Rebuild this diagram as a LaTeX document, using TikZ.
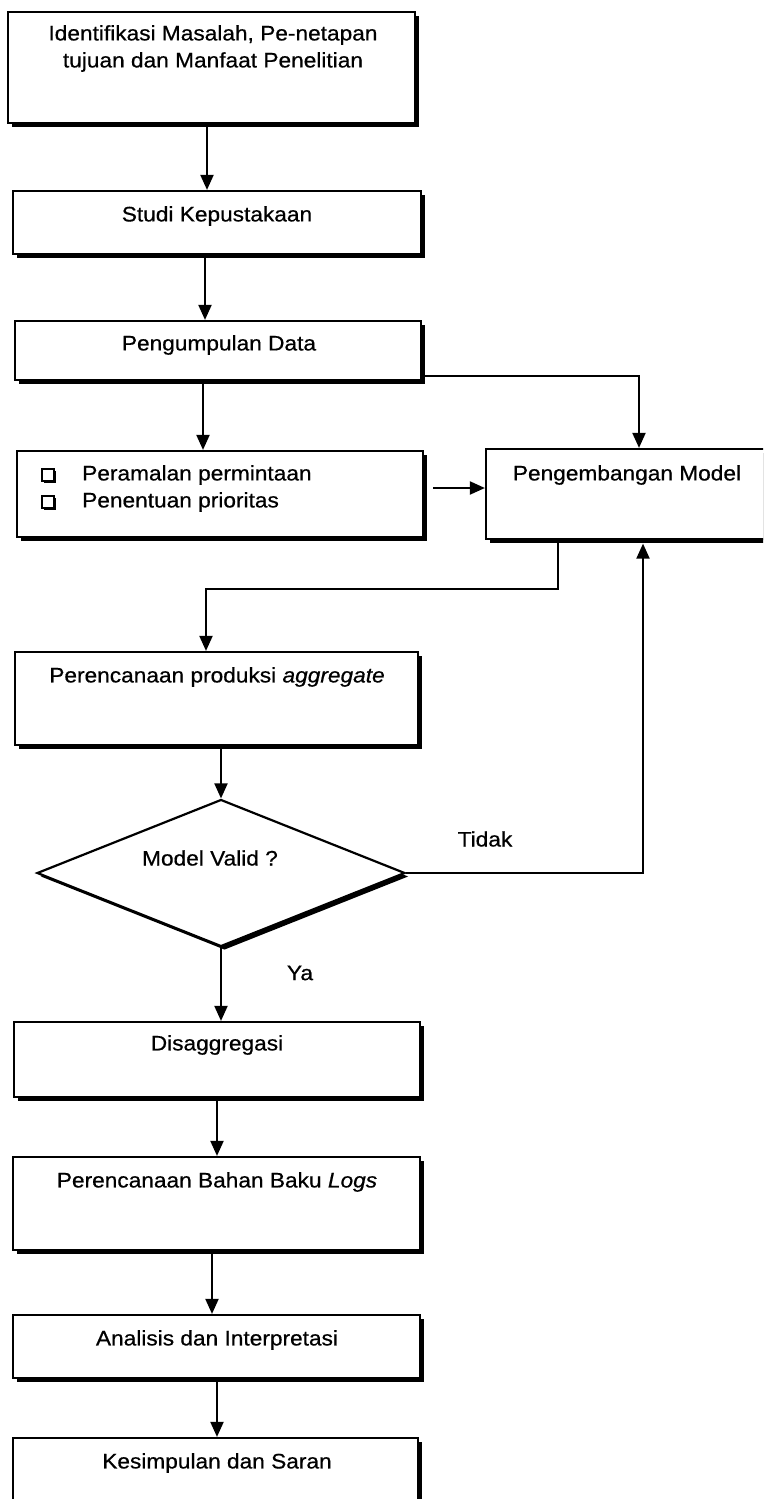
\documentclass[tikz,border=0pt]{standalone}
\usepackage{fontspec}
\setmainfont{Liberation Sans}[FakeStretch=1.08, FakeBold=0.6]
\usetikzlibrary{shapes.geometric,shadows,arrows.meta}
\begin{document}
\begin{tikzpicture}[x=1pt,y=-1pt,
  box/.style={draw=black, line width=2.2pt, fill=white, rectangle, inner sep=0pt,
     drop shadow={shadow xshift=3.5pt, shadow yshift=-3.5pt, fill=black, opacity=1}},
  bul/.style={draw=black, line width=1.6pt, fill=white, rectangle, inner sep=0pt,
     minimum size=12pt,
     drop shadow={shadow xshift=2pt, shadow yshift=-2pt, fill=black, opacity=1}},
  lbl/.style={font=\fontsize{21}{27}\selectfont, inner sep=0pt, align=center},
  arr/.style={line width=2pt, -{Triangle[length=15pt,width=13pt]}}
]
\path[use as bounding box] (0,0) rectangle (763,1499);
\clip (0,0) rectangle (763,1499);
\fill[white] (0,0) rectangle (763,1499);

% boxes
\node[box, minimum width=407pt, minimum height=111pt] (b1) at (211.5,67.5) {};
\node[lbl] (t1) at (213,48.5) {Identifikasi Masalah, Pe-netapan\\tujuan dan Manfaat Penelitian};

\node[box, minimum width=408pt, minimum height=63pt] (b2) at (217,222.5) {};
\node[lbl] (t2) at (217,216) {Studi Kepustakaan};

\node[box, minimum width=406pt, minimum height=59pt] (b3) at (218,350.5) {};
\node[lbl] (t3) at (219,345) {Pengumpulan Data};

\node[box, minimum width=406pt, minimum height=86pt] (b4) at (220,494) {};
\node[bul] (q1) at (48,475) {};
\node[bul] (q2) at (48,502) {};
\node[lbl, anchor=west] (t4a) at (82,475) {Peramalan permintaan};
\node[lbl, anchor=west] (t4b) at (82,502) {Penentuan prioritas};

\node[box, minimum width=282pt, minimum height=90pt] (b5) at (627,494) {};
\node[lbl] (t5) at (627,475) {Pengembangan Model};

\node[box, minimum width=403pt, minimum height=93pt] (b6) at (216.5,698.5) {};
\node[lbl] (t6) at (217,677) {Perencanaan produksi \textit{aggregate}};

\node[box, diamond, minimum width=368pt, minimum height=147pt] (d) at (221,873) {};
\node[lbl] (td) at (210,858) {Model Valid ?};

\node[box, minimum width=406pt, minimum height=75pt] (b7) at (217,1059.5) {};
\node[lbl] (t7) at (217,1045) {Disaggregasi};

\node[box, minimum width=407pt, minimum height=93pt] (b8) at (216.5,1203.5) {};
\node[lbl] (t8) at (217,1182) {Perencanaan Bahan Baku \textit{Logs}};

\node[box, minimum width=407pt, minimum height=63pt] (b9) at (216.5,1346.5) {};
\node[lbl] (t9) at (217,1340) {Analisis dan Interpretasi};

\node[box, minimum width=405pt, minimum height=72pt] (b10) at (215.5,1474) {};
\node[lbl] (t10) at (217,1463) {Kesimpulan dan Saran};

\node[lbl] (tidak) at (485,839) {Tidak};
\node[lbl] (ya) at (300,973) {Ya};

% connectors
\draw[arr] (b1.south -| 207,0) -- (b2.north -| 207,0);
\draw[arr] (b2.south -| 205,0) -- (b3.north -| 205,0);
\draw[arr] (b3.south -| 203,0) -- (b4.north -| 203,0);
\draw[arr] (b3.east |- 0,376) -| (b5.north -| 639,0);
\draw[arr, shorten <=9pt] (b4.east |- 0,488) -- (b5.west |- 0,488);
\draw[arr] (b5.south -| 558,0) |- (206,589) -- (b6.north -| 206,0);
\draw[arr] (b6.south -| d.north) -- (d.north);
\draw[arr, shorten >=3.5pt] (d.east) -| (b5.south -| 643,0);
\draw[arr] (d.south) -- (b7.north -| d.south);
\draw[arr] (b7.south -| 217,0) -- (b8.north -| 217,0);
\draw[arr] (b8.south -| 212,0) -- (b9.north -| 212,0);
\draw[arr] (b9.south -| 217,0) -- (b10.north -| 217,0);
\end{tikzpicture}
\end{document}
